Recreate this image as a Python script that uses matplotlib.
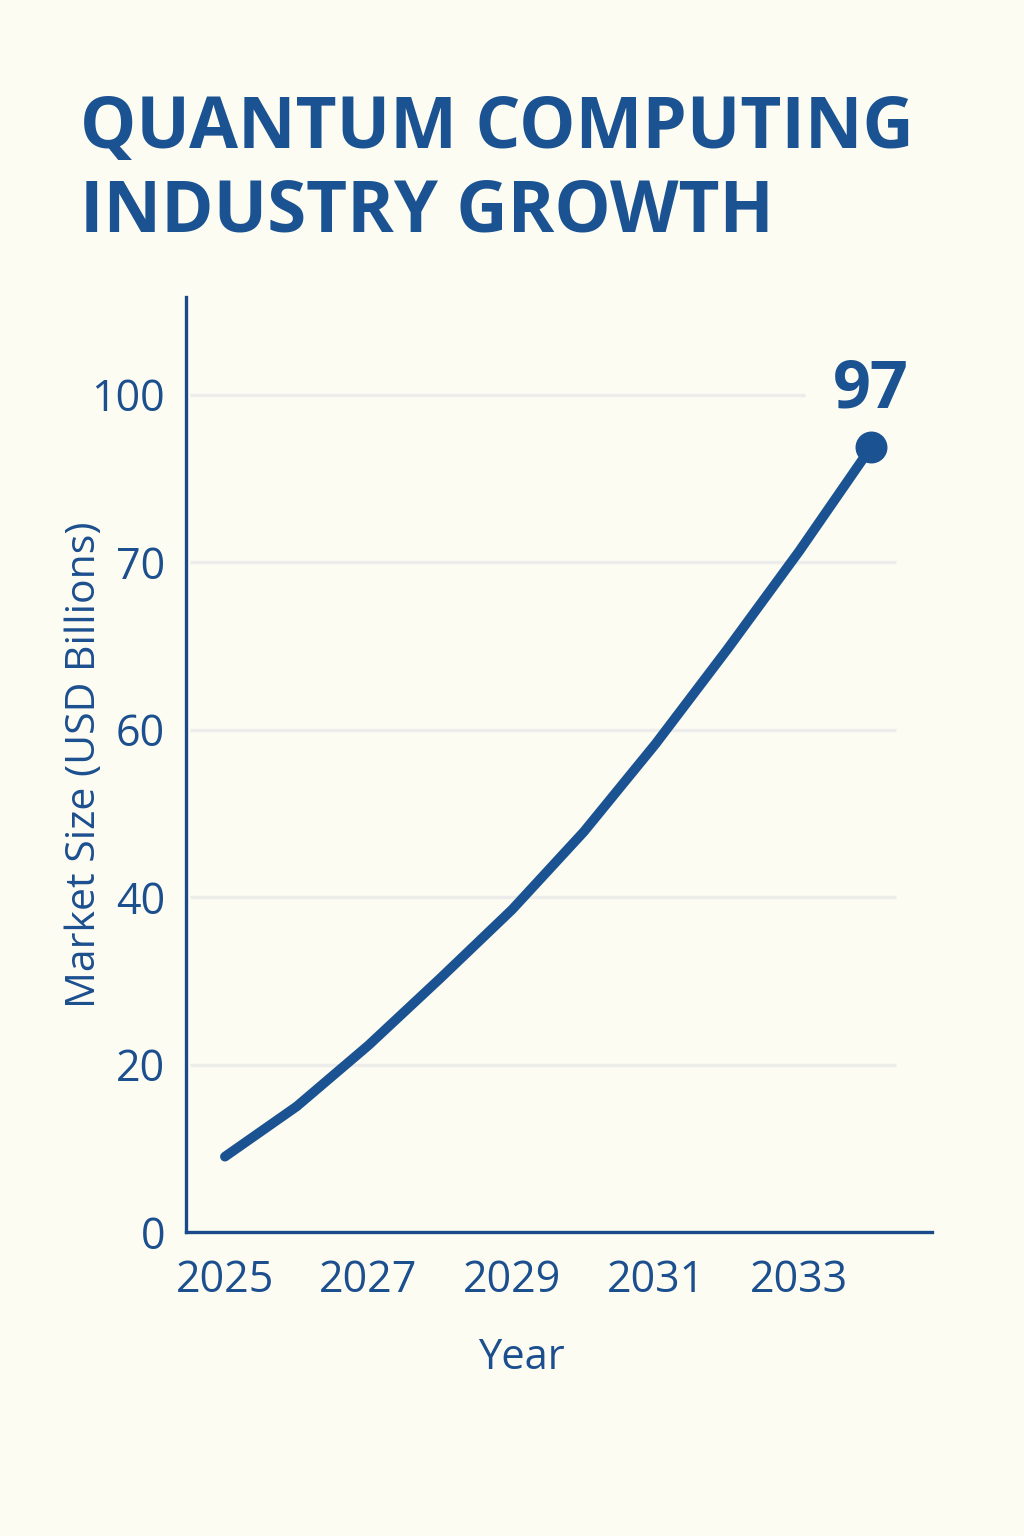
import matplotlib.pyplot as plt

# --------- data ---------------------------------
years = [2025, 2026, 2027, 2028, 2029, 2030, 2031, 2032, 2033, 2034]
# values in axis units (the axis is evenly spaced with ticks every 20)
market = [9.0, 15.0, 22.3, 30.3, 38.5, 47.8, 58.3, 69.6, 81.3, 93.7]
ytick_pos = [0, 20, 40, 60, 80, 100]
ytick_lbl = ["0", "20", "40", "60", "70", "100"]
xtick_pos = [2025, 2027, 2029, 2031, 2033]
end_label = "97"

bg = "#fdfcf3"
navy = "#1b5392"
text_c = "#1c4f8e"
grid_c = "#ececea"

fig = plt.figure(figsize=(10.24, 15.36), dpi=100, facecolor=bg)
ax = fig.add_axes([0.1816, 0.1979, 0.9102 - 0.1816, 0.8066 - 0.1979])
ax.set_facecolor(bg)

ax.set_xlim(2024.457, 2034.85)
ax.set_ylim(0, 111.64)

# gridlines (stop short of the right edge like the original)
for y in ytick_pos[1:]:
    xend = 2033.08 if y == 100 else 2034.345
    ax.hlines(y, 2024.52, xend, color=grid_c, lw=2.4, zorder=1)

ax.plot(years, market, color=navy, lw=7, solid_capstyle='round',
        solid_joinstyle='round', zorder=3)
ax.plot(years[-1], market[-1], 'o', color=navy, ms=22, zorder=4)
ax.text(years[-1], market[-1] + 4.7, end_label, ha='center', va='baseline',
        fontsize=48, fontweight='bold', color=navy, family='Open Sans')

for s in ['top', 'right']:
    ax.spines[s].set_visible(False)
for s in ['left', 'bottom']:
    ax.spines[s].set_color("#1a4a8a")
    ax.spines[s].set_linewidth(2.4)

ax.set_yticks(ytick_pos)
ax.set_yticklabels(ytick_lbl)
ax.set_xticks(xtick_pos)
ax.set_xticklabels([str(x) for x in xtick_pos])
ax.tick_params(axis='both', length=0, labelsize=31, labelcolor=text_c)
ax.tick_params(axis='y', pad=15)
ax.tick_params(axis='x', pad=19)
for lbl in ax.get_xticklabels() + ax.get_yticklabels():
    lbl.set_family('Open Sans')

ax.set_ylabel("Market Size (USD Billions)", fontsize=29.5, color=text_c,
              family='Open Sans')
ax.yaxis.set_label_coords(-0.108, 0.5)
ax.set_xlabel("Year", fontsize=30, color=text_c, family='Open Sans')
ax.xaxis.set_label_coords(0.45, -0.112)

fig.text(0.078, 0.9036, "QUANTUM COMPUTING", ha='left', va='baseline',
         fontsize=51, fontweight='bold', color=navy, family='Open Sans')
fig.text(0.078, 0.849, "INDUSTRY GROWTH", ha='left', va='baseline',
         fontsize=51, fontweight='bold', color=navy, family='Open Sans')

fig.savefig("out.png", dpi=100, facecolor=bg)
